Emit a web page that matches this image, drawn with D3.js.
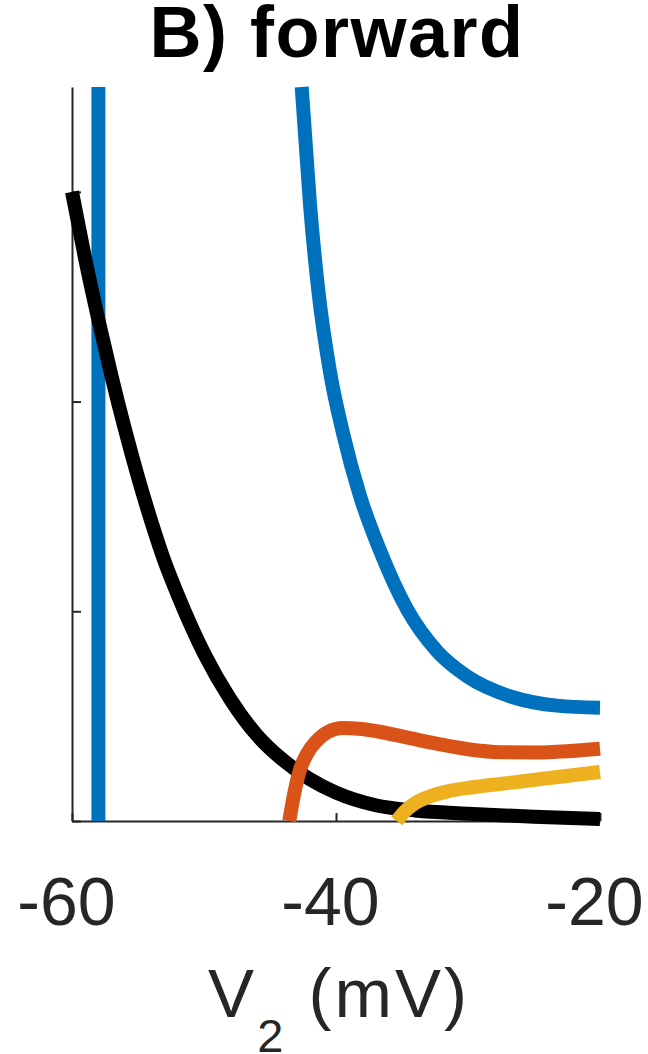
<!DOCTYPE html>
<html>
<head>
<meta charset="utf-8">
<script src="https://d3js.org/d3.v7.min.js"></script>
<style>
  body { margin: 0; background: #fff; }
  svg { display: block; }
</style>
</head>
<body>
<svg></svg>
<script>
// values (x: V2 in mV, y: unlabelled)
const xTicks = [-60, -40, -20];
const yTicks = [0, 1, 2, 3];

const blueAsymV = [-58, -58];
const blueAsymY = [0, 3.5];

const blueV = [-42.6, -41.97, -41.36, -40.45, -39.47, -38.18, -36.67, -34.62, -32.35, -30.08, -26.59, -23.26, -20];
const blueY = [3.5, 2.94, 2.54, 2.14, 1.85, 1.55, 1.29, 1.01, 0.81, 0.69, 0.59, 0.55, 0.54];

const blackV = [-60, -59, -58, -57, -56, -55, -54, -53, -52, -50, -48, -46, -44, -42, -40, -37, -34, -30, -25, -20];
const blackY = [3.0, 2.68, 2.39, 2.12, 1.87, 1.64, 1.43, 1.24, 1.08, 0.80, 0.58, 0.41, 0.29, 0.20, 0.135, 0.075, 0.05, 0.035, 0.02, 0.01];

const orangeV = [-43.54, -43.2, -42.8, -42.2, -41.5, -40.6, -39.5, -38.3, -36.9, -34.4, -32.1, -30, -27.5, -25, -22.5, -20];
const orangeY = [0, 0.12, 0.23, 0.32, 0.38, 0.425, 0.443, 0.44, 0.428, 0.395, 0.365, 0.342, 0.328, 0.327, 0.333, 0.345];

const yellowV = [-35.4, -34.8, -34.0, -33, -31.5, -29.5, -26.3, -23.2, -20];
const yellowY = [0, 0.045, 0.085, 0.115, 0.142, 0.162, 0.186, 0.21, 0.234];

const WIDTH = 648;
const HEIGHT = 1054;
const AXIS_COLOR = '#262626';
const FONT = 'Liberation Sans, Arial, Helvetica, sans-serif';

const x = d3.scaleLinear().domain([-60, -20]).range([72, 600]);
const y = d3.scaleLinear().domain([0, 3.5]).range([821, 87]);

const svg = d3.select('svg').attr('width', WIDTH).attr('height', HEIGHT);

const zip = (vs, ys) => vs.map((v, i) => ({ v: v, y: ys[i] }));

const series = [
  { pts: zip(blueAsymV, blueAsymY), color: '#0072BD' },
  { pts: zip(blueV, blueY), color: '#0072BD' },
  { pts: zip(blackV, blackY), color: '#000000' },
  { pts: zip(orangeV, orangeY), color: '#D95319' },
  { pts: zip(yellowV, yellowY), color: '#EDB120' }
];

// axes
const xAxis = d3.axisBottom(x).tickValues(xTicks).tickSize(-8).tickSizeOuter(0).tickPadding(56);
const yAxis = d3.axisLeft(y).tickValues(yTicks).tickSize(-9).tickSizeOuter(0).tickFormat('');

const gx = svg.append('g').attr('transform', `translate(0,${y(0)})`).call(xAxis);
const gy = svg.append('g').attr('transform', `translate(${x(-60)},0)`).call(yAxis);

[gx, gy].forEach(g => {
  g.select('.domain').attr('stroke', AXIS_COLOR).attr('stroke-width', 2);
  g.selectAll('.tick line').attr('stroke', AXIS_COLOR).attr('stroke-width', 2);
});
gx.selectAll('.tick text')
  .attr('fill', AXIS_COLOR)
  .attr('font-family', FONT)
  .attr('font-size', 68)
  .attr('dx', -6)
  .text(d => String(d));

// curves
const line = d3.line()
  .x(d => x(d.v))
  .y(d => y(d.y))
  .curve(d3.curveMonotoneX);

svg.append('g')
  .selectAll('path')
  .data(series)
  .enter()
  .append('path')
  .attr('d', s => line(s.pts))
  .attr('fill', 'none')
  .attr('stroke', s => s.color)
  .attr('stroke-width', 14)
  .attr('stroke-linecap', 'butt')
  .attr('stroke-linejoin', 'round');

// title
svg.append('text')
  .attr('x', 337)
  .attr('y', 57)
  .attr('text-anchor', 'middle')
  .attr('font-family', FONT)
  .attr('font-weight', 'bold')
  .attr('font-size', 72)
  .attr('letter-spacing', 1.5)
  .attr('fill', '#000')
  .text('B) forward');

// x label with subscript
const xl = svg.append('text')
  .attr('x', 339)
  .attr('y', 1017)
  .attr('text-anchor', 'middle')
  .attr('font-family', FONT)
  .attr('font-size', 69)
  .attr('letter-spacing', 3)
  .attr('fill', AXIS_COLOR);
xl.append('tspan').text('V');
xl.append('tspan').attr('font-size', 47).attr('dy', 35).text('2');
xl.append('tspan').attr('dy', -35).text(' (mV)');
</script>
</body>
</html>
